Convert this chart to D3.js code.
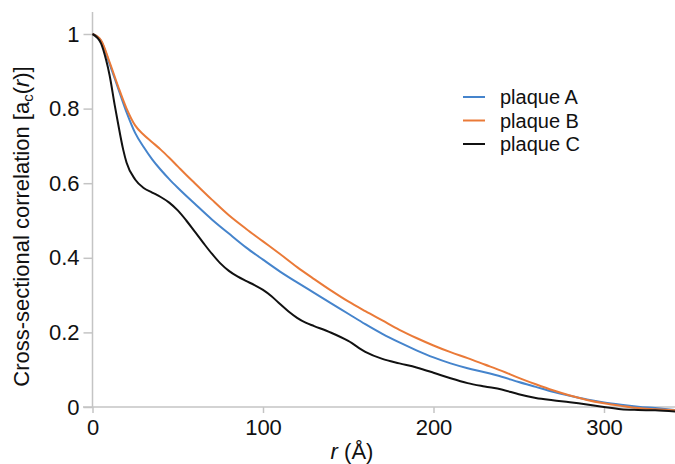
<!DOCTYPE html>
<html><head><meta charset="utf-8">
<script src="https://cdn.jsdelivr.net/npm/d3@7"></script>
<style>body{margin:0;background:#fff}svg{display:block}text{font-family:"Liberation Sans",Arial,sans-serif;fill:#111}</style>
</head><body><svg id="c" width="675" height="464"></svg>
<script>
const seriesNames = ["plaque A","plaque B","plaque C"];
const seriesColors = ["#4584cc","#ea7a38","#111111"];
const rA = [0,5,10,15,20,25,30,35,40,45,50,60,70,80,90,100,110,120,130,140,150,160,170,180,190,200,210,220,230,240,250,260,270,280,290,300,310,320,330,342];
const vA = [1,0.982,0.92,0.855,0.79,0.735,0.697,0.664,0.636,0.611,0.588,0.545,0.503,0.465,0.428,0.395,0.363,0.334,0.306,0.278,0.25,0.222,0.196,0.173,0.152,0.133,0.117,0.104,0.093,0.081,0.067,0.054,0.041,0.03,0.02,0.012,0.006,0.001,-0.003,-0.008];
const rB = [0,5,10,15,20,25,30,35,40,45,50,55,60,70,80,90,100,110,120,130,140,150,160,170,180,190,200,210,220,230,240,250,260,270,280,290,300,310,320,330,342];
const vB = [1,0.983,0.925,0.86,0.80,0.755,0.73,0.71,0.69,0.668,0.645,0.622,0.60,0.556,0.514,0.478,0.444,0.41,0.375,0.343,0.312,0.283,0.257,0.232,0.207,0.185,0.165,0.147,0.131,0.114,0.097,0.078,0.061,0.045,0.031,0.019,0.01,0.003,-0.003,-0.006,-0.009];
const rC = [0,5,8,10,13,15,18,20,25,30,35,40,45,50,55,60,65,70,75,80,85,90,95,100,105,110,115,120,125,130,140,150,160,170,180,190,200,210,220,230,240,250,260,270,280,290,300,310,320,330,342];
const vC = [1,0.975,0.93,0.89,0.81,0.76,0.69,0.655,0.61,0.587,0.575,0.563,0.548,0.527,0.50,0.47,0.44,0.411,0.385,0.365,0.35,0.338,0.327,0.314,0.297,0.276,0.256,0.239,0.226,0.217,0.199,0.177,0.148,0.129,0.117,0.106,0.092,0.077,0.064,0.055,0.047,0.034,0.024,0.018,0.013,0.007,0.0,-0.006,-0.008,-0.009,-0.012];
const xTicks = [0,100,200,300];
const yTicks = [0,0.2,0.4,0.6,0.8,1];
const yTickLabels = ["0","0.2","0.4","0.6","0.8","1"];

const svg = d3.select("#c");
const x = d3.scaleLinear().domain([0,100]).range([92.5,263]);
const y = d3.scaleLinear().domain([0,1]).range([407,34]);
const axisCol = "#c4c4c4";

const gy = svg.append("g").attr("transform","translate(92.5,0)")
  .call(d3.axisLeft(y).tickValues(yTicks).tickFormat((d,i)=>yTickLabels[i]).tickSize(9).tickPadding(4));
gy.select(".domain").remove();
gy.selectAll("line").attr("stroke",axisCol).attr("stroke-width",1.5);
gy.selectAll("text").attr("font-size",22).attr("font-family","Liberation Sans, Arial, sans-serif").attr("fill","#111");

const gx = svg.append("g").attr("transform","translate(0,407)")
  .call(d3.axisBottom(x).tickValues(xTicks).tickFormat(d3.format("d")).tickSize(6).tickPadding(6));
gx.select(".domain").remove();
gx.selectAll("line").attr("stroke",axisCol).attr("stroke-width",1.5);
gx.selectAll("text").attr("font-size",22).attr("font-family","Liberation Sans, Arial, sans-serif").attr("fill","#111").attr("dy","0.71em");

svg.append("line").attr("x1",92.5).attr("x2",92.5).attr("y1",12).attr("y2",407).attr("stroke",axisCol).attr("stroke-width",1.5);
svg.append("line").attr("x1",83).attr("x2",675).attr("y1",407).attr("y2",407).attr("stroke",axisCol).attr("stroke-width",1.5);

const data = [[rA,vA],[rB,vB],[rC,vC]];
const line = d3.line().x(d=>x(d[0])).y(d=>y(d[1])).curve(d3.curveMonotoneX);
data.forEach((s,i)=>{
  const pts = s[0].map((r,j)=>[r,s[1][j]]);
  svg.append("path").datum(pts).attr("d",line).attr("fill","none")
    .attr("stroke",seriesColors[i]).attr("stroke-width",2).attr("stroke-linejoin","round");
});

const lg = svg.append("g");
seriesNames.forEach((n,i)=>{
  const yy = 97 + i*23.5;
  lg.append("line").attr("x1",463).attr("x2",485).attr("y1",yy).attr("y2",yy).attr("stroke",seriesColors[i]).attr("stroke-width",2);
  lg.append("text").attr("x",500).attr("y",yy).attr("dy","0.35em").attr("font-size",20).text(n);
});

const xl = svg.append("text").attr("x",352).attr("y",458.5).attr("text-anchor","middle").attr("font-size",22);
xl.append("tspan").attr("font-style","italic").text("r");
xl.append("tspan").text(" (Å)");

const yl = svg.append("text").attr("transform","translate(29,226.5) rotate(-90)").attr("text-anchor","middle").attr("font-size",22);
yl.append("tspan").text("Cross-sectional correlation [a");
yl.append("tspan").attr("font-size",15).attr("dy",4).text("c");
yl.append("tspan").attr("dy",-4).text("(");
yl.append("tspan").attr("font-style","italic").text("r");
yl.append("tspan").text(")]");
</script></body></html>
